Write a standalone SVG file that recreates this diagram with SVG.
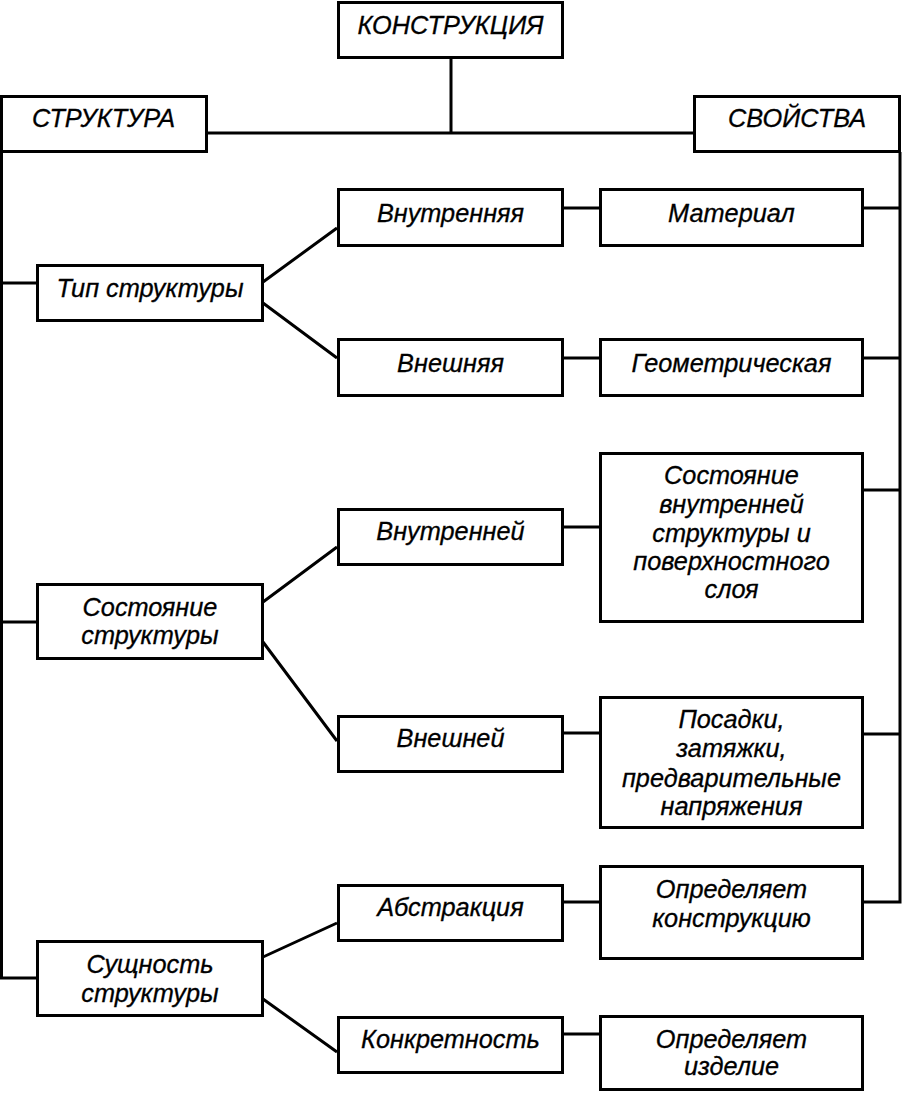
<svg xmlns="http://www.w3.org/2000/svg" width="902" height="1093" viewBox="0 0 902 1093">
<style>
.b{fill:#fff;stroke:#000;stroke-width:3}
.c{fill:none;stroke:#000;stroke-width:3}
text{font-family:"Liberation Sans",Arial,sans-serif;font-style:italic;font-size:25.3px;fill:#000;stroke:#000;stroke-width:0.3;text-anchor:middle}
</style>
<rect width="902" height="1093" fill="#fff"/>
<g id="connectors">
<path class="c" d="M451 58V133M207 133H695"/>
<path class="c" d="M1.5 152V978H36M1.5 283H36M1.5 622H36"/>
<path class="c" d="M900 152V902H863M863 208H900M863 358H900M863 490H900M863 734H900"/>
<path class="c" d="M263 282L337 228M263 303L337 358"/>
<path class="c" d="M263 602L337 547M263 642L337 741"/>
<path class="c" d="M263 957L337 923M263 999L337 1052"/>
<path class="c" d="M563 208H600M563 358H600M563 527H600M563 733H600M563 902H600M563 1034H600"/>
</g>
<g id="n-konstr"><rect class="b" x="338.5" y="2.5" width="224" height="55"/><text x="450.5" y="34">КОНСТРУКЦИЯ</text></g>
<g id="n-struct"><rect class="b" x="1.5" y="96.5" width="205" height="55"/><text x="103.5" y="127">СТРУКТУРА</text></g>
<g id="n-svoistva"><rect class="b" x="694.5" y="96.5" width="205" height="55"/><text x="797" y="127">СВОЙСТВА</text></g>
<g id="n-tip"><rect class="b" x="37.5" y="265.5" width="225" height="55"/><text x="150" y="297">Тип структуры</text></g>
<g id="n-vnutr1"><rect class="b" x="338.5" y="189.5" width="224" height="56"/><text x="450.5" y="222">Внутренняя</text></g>
<g id="n-vnesh1"><rect class="b" x="338.5" y="339.5" width="224" height="56"/><text x="450.5" y="372">Внешняя</text></g>
<g id="n-material"><rect class="b" x="600.5" y="189.5" width="262" height="56"/><text x="731.5" y="222">Материал</text></g>
<g id="n-geom"><rect class="b" x="600.5" y="339.5" width="262" height="56"/><text x="731.5" y="372">Геометрическая</text></g>
<g id="n-sost"><rect class="b" x="37.5" y="584.5" width="225" height="74"/><text x="150" y="616">Состояние</text><text x="150" y="644">структуры</text></g>
<g id="n-vnutr2"><rect class="b" x="338.5" y="509.5" width="224" height="55"/><text x="450.5" y="540">Внутренней</text></g>
<g id="n-vnesh2"><rect class="b" x="338.5" y="716.5" width="224" height="55"/><text x="450.5" y="747">Внешней</text></g>
<g id="n-sostvn"><rect class="b" x="600.5" y="453.5" width="262" height="168"/><text x="731.5" y="484">Состояние</text><text x="731.5" y="513">внутренней</text><text x="731.5" y="542">структуры и</text><text x="731.5" y="570">поверхностного</text><text x="731.5" y="598">слоя</text></g>
<g id="n-posadki"><rect class="b" x="600.5" y="697.5" width="262" height="130"/><text x="731.5" y="728">Посадки,</text><text x="731.5" y="757">затяжки,</text><text x="731.5" y="787">предварительные</text><text x="731.5" y="815">напряжения</text></g>
<g id="n-sush"><rect class="b" x="37.5" y="941.5" width="225" height="74"/><text x="150" y="973">Сущность</text><text x="150" y="1002">структуры</text></g>
<g id="n-abstr"><rect class="b" x="338.5" y="885.5" width="224" height="55"/><text x="450.5" y="916">Абстракция</text></g>
<g id="n-konkr"><rect class="b" x="338.5" y="1017.5" width="224" height="55"/><text x="450.5" y="1048">Конкретность</text></g>
<g id="n-opr1"><rect class="b" x="600.5" y="866.5" width="262" height="92"/><text x="731.5" y="898">Определяет</text><text x="731.5" y="927">конструкцию</text></g>
<g id="n-opr2"><rect class="b" x="600.5" y="1016.5" width="262" height="73"/><text x="731.5" y="1048">Определяет</text><text x="731.5" y="1075">изделие</text></g>
</svg>
